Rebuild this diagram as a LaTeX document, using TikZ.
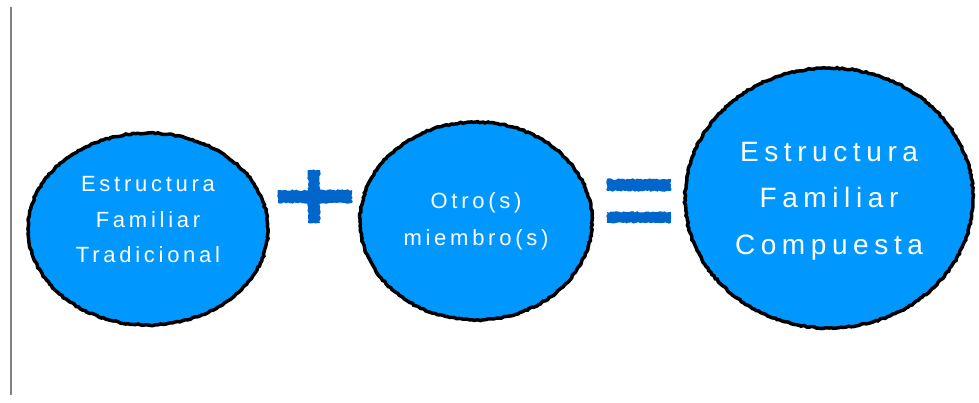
\documentclass[tikz,border=0pt]{standalone}
\usepackage{fontspec}
\setmainfont{Liberation Sans}
\newfontfamily\spacedfont[LetterSpace=17]{Liberation Sans}
\newfontfamily\widefont[LetterSpace=20]{Liberation Sans}
\usetikzlibrary{shapes.geometric,decorations.pathmorphing}
\definecolor{skyfill}{RGB}{0,152,254}
\definecolor{signblue}{RGB}{0,102,204}
\definecolor{railgray}{RGB}{128,128,128}
\begin{document}
\begin{tikzpicture}[x=1pt,y=-1pt,
  bubble/.style={ellipse, draw=black, fill=skyfill, line width=3.5pt, inner sep=0pt,
    decorate, decoration={random steps, segment length=2.5pt, amplitude=0.7pt}},
  bubbletext/.style={text=white, align=center, inner sep=0pt},
  signbar/.style={fill=signblue, decorate, decoration={random steps, segment length=2pt, amplitude=0.8pt}}]
\useasboundingbox (0,0) rectangle (979,402);
\draw[railgray, line width=2pt] (11,7) -- (11,395);
% the three families
\node[bubble, minimum width=240pt, minimum height=192pt] (trad) at (148,229) {};
\node[bubble, minimum width=232pt, minimum height=198pt] (otros) at (476,221) {};
\node[bubble, minimum width=288pt, minimum height=260pt] (comp) at (829,198) {};
\node[bubbletext, font=\spacedfont\fontsize{22}{35.5}\selectfont] (tradtxt) at (148,220) {Estructura\\Familiar\\Tradicional};
\node[bubbletext, font=\spacedfont\fontsize{22}{37}\selectfont] (otrostxt) at (476,221) {Otro(s)\\miembro(s)};
\node[bubbletext, font=\widefont\fontsize{28}{46.5}\selectfont] (comptxt) at (829,201) {Estructura\\Familiar\\Compuesta};
% plus and equals
\fill[signbar] (278,190) rectangle (352,203);
\fill[signbar] (308,170) rectangle (320,223);
\fill[signbar] (607,179) rectangle (671,191);
\fill[signbar] (607,212) rectangle (671,223);
\end{tikzpicture}
\end{document}
